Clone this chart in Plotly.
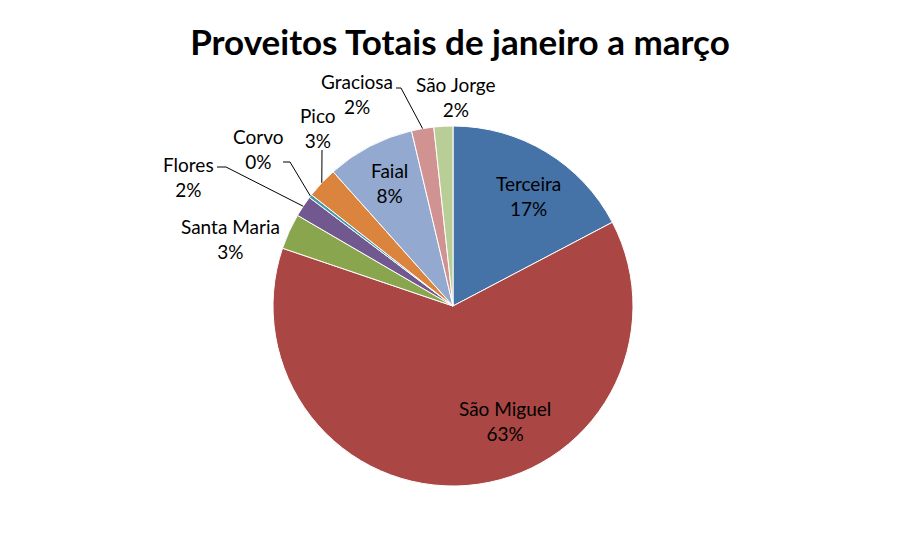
import math
import plotly.graph_objects as go

W, H = 921, 533

islands = ["Terceira", "São Miguel", "Santa Maria", "Flores", "Corvo",
           "Pico", "Faial", "Graciosa", "São Jorge"]
shares = [17.3, 62.9, 3.2, 1.9, 0.3, 2.8, 7.9, 2.0, 1.7]
colors = ["#4572A7", "#AA4643", "#89A54E", "#71588F", "#4198AF",
          "#DB843D", "#93A9CF", "#D19392", "#B9CD96"]

# pie geometry in pixels
CX, CY, R = 453, 306, 180

# label centres (pixels) and leader-line elbows
label_pos = {
    "Terceira": (528, 196, None),
    "São Miguel": (505, 421, None),
    "Faial": (389, 183, None),
    "Santa Maria": (230, 239, None),
    "Flores": (188, 177, [(217, 167), (226, 167)]),
    "Corvo": (258, 149, [(283, 162), (290, 162)]),
    "Pico": (318, 128, [(322, 150)]),
    "Graciosa": (357, 94, [(396, 88), (401, 88)]),
    "São Jorge": (456, 97, None),
}

FONT = "Lato"
total = sum(shares)

fig = go.Figure(go.Pie(
    labels=islands, values=shares, sort=False, direction="clockwise",
    rotation=0, textinfo="none", hoverinfo="label+percent",
    marker=dict(colors=colors, line=dict(color="white", width=1)),
    domain=dict(x=[(CX - R) / W, (CX + R) / W], y=[1 - (CY + R) / H, 1 - (CY - R) / H]),
    showlegend=False,
))

def px(x):
    return x / W

def py(y):
    return 1 - y / H

annotations = []
shapes = []
cum = 0.0
for name, v in zip(islands, shares):
    start = cum / total * 360
    cum += v
    end = cum / total * 360
    mid = math.radians((start + end) / 2)
    ex, ey = CX + R * math.sin(mid), CY - R * math.cos(mid)
    lx, ly, elbow = label_pos[name]
    pct = round(v / total * 100)
    annotations.append(dict(
        x=px(lx), y=py(ly), xref="paper", yref="paper",
        text=f"{name}<br>{pct}%", showarrow=False,
        font=dict(family=FONT, size=19, color="#000000"),
        xanchor="center", yanchor="middle",
    ))
    if elbow:
        pts = elbow + [(ex, ey)]
        for (x0, y0), (x1, y1) in zip(pts[:-1], pts[1:]):
            shapes.append(dict(type="line", xref="paper", yref="paper",
                               x0=px(x0), y0=py(y0), x1=px(x1), y1=py(y1),
                               line=dict(color="#000000", width=1)))

fig.update_layout(
    width=W, height=H,
    margin=dict(l=0, r=0, t=0, b=0),
    paper_bgcolor="white", plot_bgcolor="white",
    title=dict(text="<b>Proveitos Totais de janeiro a março</b>",
               x=460 / W, y=1 - 43 / H, xanchor="center", yanchor="middle",
               font=dict(family=FONT, size=35, color="#000000")),
    annotations=annotations, shapes=shapes,
)

fig.write_html("out.html")
